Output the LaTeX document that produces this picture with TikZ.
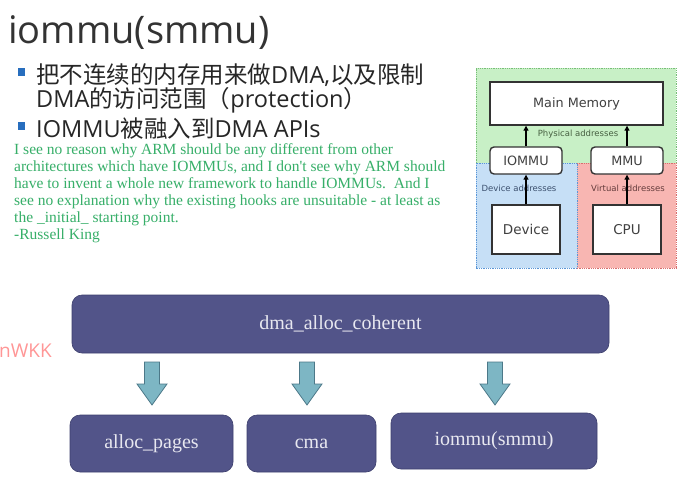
\documentclass[tikz,border=0pt]{standalone}
\usepackage{fontspec}
\usetikzlibrary{arrows.meta,calc}
\newfontfamily\cjk{Noto Sans CJK SC}
\newfontfamily\latf{Open Sans}
\newfontfamily\serf{Liberation Serif}
\newfontfamily\dvs{DejaVu Sans}
\definecolor{titlegray}{RGB}{51,51,51}
\definecolor{bulletblue}{RGB}{40,110,190}
\definecolor{quotegreen}{RGB}{55,175,105}
\definecolor{greenbg}{RGB}{200,240,198}
\definecolor{greenln}{RGB}{120,190,120}
\definecolor{bluebg}{RGB}{198,223,246}
\definecolor{blueln}{RGB}{90,150,215}
\definecolor{redbg}{RGB}{248,182,178}
\definecolor{redln}{RGB}{215,110,110}
\definecolor{boxblue}{RGB}{82,84,137}
\definecolor{boxline}{RGB}{62,64,110}
\definecolor{boxtext}{RGB}{232,232,240}
\definecolor{arrfill}{RGB}{125,182,196}
\definecolor{arrline}{RGB}{76,120,136}
\definecolor{pinkc}{RGB}{255,150,150}
\definecolor{lblgreen}{RGB}{70,95,65}
\definecolor{lblblue}{RGB}{60,80,110}
\definecolor{lblred}{RGB}{100,60,60}
\tikzset{
  qline/.style={anchor=base west, inner sep=0, text=quotegreen, font=\serf\fontsize{15.5}{17}\selectfont},
  bline/.style={anchor=base west, inner sep=0, text=black!85},
  bsq/.style={fill=bulletblue, minimum size=7.5pt, inner sep=0},
  membox/.style={draw=black!80, line width=1.4pt, fill=white, inner sep=0, font=\dvs\fontsize{12.8}{14}\selectfont, text=black!75},
  lbl/.style={inner sep=0, font=\dvs\fontsize{8.5}{10}\selectfont},
  tarr/.style={draw=black, line width=1.2pt, -{Triangle[width=5pt,length=5pt]}},
  fbox/.style={draw=boxline, line width=0.6pt, fill=boxblue, rounded corners=10pt, inner sep=0, text=boxtext, font=\serf\fontsize{20}{22}\selectfont},
  barrow/.style={draw=arrline, line width=0.8pt, fill=arrfill, line join=miter}
}
\begin{document}
\begin{tikzpicture}[x=1pt,y=-1pt]
\useasboundingbox (0,0) rectangle (694,477);
\fill[white] (0,0) rectangle (694,477);
% title
\node[anchor=base west, inner sep=0, text=titlegray, font=\latf\fontsize{38}{42}\selectfont] (title) at (8,43) {iommu(smmu)};
% bullets
\node[bsq] (b1) at (21.5,72) {};
\node[bsq] (b2) at (21.5,126) {};
\node[bline, font=\cjk\fontsize{23.5}{26}\selectfont] (t1) at (36,83) {把不连续的内存用来做{\latf DMA,}以及限制};
\node[bline, font=\cjk\fontsize{23.5}{26}\selectfont] (t2) at (36,107) {{\latf DMA}的访问范围（{\latf protection}）};
\node[bline, font=\cjk\fontsize{23.5}{26}\selectfont] (t3) at (36,137) {{\latf IOMMU}被融入到{\latf DMA APIs}};
% quote
\node[qline] (q1) at (14,154) {I see no reason why ARM should be any different from other};
\node[qline] (q2) at (14,171) {architectures which have IOMMUs, and I don't see why ARM should};
\node[qline] (q3) at (14,188) {have to invent a whole new framework to handle IOMMUs.\ \ And I};
\node[qline] (q4) at (14,205) {see no explanation why the existing hooks are unsuitable - at least as};
\node[qline] (q5) at (14,222) {the \_initial\_ starting point.};
\node[qline] (q6) at (14,239) {-Russell King};
% right diagram
\fill[greenbg] (476,68) rectangle (676,163);
\fill[bluebg] (476,163) rectangle (577,268);
\fill[redbg] (577,163) rectangle (676,268);
\draw[greenln, densely dotted, line width=0.8pt] (476,163) -- (476,68) -- (676,68) -- (676,163);
\draw[blueln, densely dotted, line width=0.8pt] (476,163) rectangle (577,268);
\draw[redln, densely dotted, line width=0.8pt] (577,163) -- (676,163) -- (676,268) -- (577,268);
\node[membox, minimum width=173pt, minimum height=43pt] (mem) at (576.5,103.5) {Main Memory};
\node[membox, rounded corners=4pt, minimum width=72pt, minimum height=27pt] (iommu) at (526,160.5) {IOMMU};
\node[membox, rounded corners=4pt, minimum width=72pt, minimum height=27pt] (mmu) at (627,160.5) {MMU};
\node[membox, minimum width=68pt, minimum height=49pt, font=\dvs\fontsize{13.5}{15}\selectfont] (dev) at (526,229.5) {Device};
\node[membox, minimum width=68pt, minimum height=49pt, font=\dvs\fontsize{13.5}{15}\selectfont] (cpu) at (627,229.5) {CPU};
\node[lbl, text=lblgreen] (phys) at (578,134.5) {Physical addresses};
\node[lbl, text=lblblue] (daddr) at (519,188.5) {Device addresses};
\node[lbl, text=lblred] (vaddr) at (628,188.5) {Virtual addresses};
\draw[tarr] (iommu.north) -- (iommu.north |- mem.south);
\draw[tarr] (mmu.north) -- (mmu.north |- mem.south);
\draw[tarr] (dev.north) -- (iommu.south);
\draw[tarr] (cpu.north) -- (mmu.south);
% bottom
\node[anchor=base west, inner sep=0, text=pinkc, font=\latf\fontsize{19}{22}\selectfont] (wm) at (-1,357) {nWKK};
\node[fbox, minimum width=537pt, minimum height=58pt] (top) at (340.5,324) {dma\_alloc\_coherent};
\node[fbox, minimum width=163pt, minimum height=57pt] (ap) at (151.5,443.5) {alloc\_pages};
\node[fbox, minimum width=129pt, minimum height=57pt] (cma) at (311.5,443.5) {cma};
\node[fbox, minimum width=206pt, minimum height=56pt] (io) at (494,441) {iommu(smmu)};
\foreach \n/\x in {1/152,2/307,3/495}{
  \coordinate (s\n) at (\x,362);
  \coordinate (e\n) at (\x,405);
  \draw[barrow] ($(s\n)+(-7.5,0)$) -- ($(s\n)+(7.5,0)$) -- ($(e\n)+(7.5,-21)$) -- ($(e\n)+(15,-21)$) -- (e\n) -- ($(e\n)+(-15,-21)$) -- ($(e\n)+(-7.5,-21)$) -- cycle;
}
\end{tikzpicture}
\end{document}
